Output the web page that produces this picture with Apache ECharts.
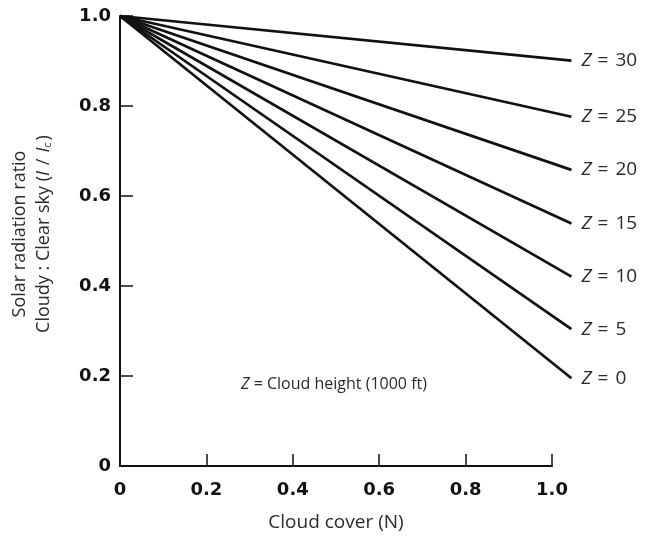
<!DOCTYPE html>
<html>
<head>
<meta charset="utf-8">
<script src="https://cdn.jsdelivr.net/npm/echarts@6/dist/echarts.min.js"></script>
<style>html,body{margin:0;padding:0;background:#fff;}#c{width:647px;height:543px;}</style>
</head>
<body>
<div id="c"></div>
<script>
// Cloud height Z (1000 ft) per line
const zHeights = [30, 25, 20, 15, 10, 5, 0];
// cloud cover at start and end of each drawn line
const coverStart = 0;
const coverEnd = 1.045;
// ratio at start and end of each line
const ratioStart = [1, 1, 1, 1, 1, 1, 1];
const ratioEnd = [0.901, 0.776, 0.658, 0.539, 0.421, 0.304, 0.195];
// axis ticks
const xTicks = [0, 0.2, 0.4, 0.6, 0.8, 1.0];
const yTicks = [0, 0.2, 0.4, 0.6, 0.8, 1.0];

const chart = echarts.init(document.getElementById('c'), null, {renderer: 'canvas'});
const fmt = v => (v === 0 ? '0' : v.toFixed(1));
const lightFont = '"Open Sans", Lato, sans-serif';
const tickFont = '"DejaVu Sans", "Liberation Sans", sans-serif';
const txtCol = '#2a2a2a';

const plotLeft = 120, plotTop = 16, plotBottom = 77;
const plotWidth = 432;

const series = zHeights.map((z, i) => ({
  type: 'line',
  name: 'Z=' + z,
  xAxisIndex: 1, yAxisIndex: 1,
  data: [[coverStart, ratioStart[i]], [coverEnd, ratioEnd[i]]],
  showSymbol: false,
  symbol: 'none',
  clip: false,
  silent: true,
  animation: false,
  lineStyle: {color: '#111', width: 2.7},
  endLabel: {
    show: true,
    distance: 10,
    formatter: '{i|Z}{e|=}' + z,
    color: txtCol,
    fontFamily: lightFont,
    fontSize: 19,
    rich: {
      i: {fontStyle: 'italic', fontFamily: lightFont, fontSize: 19, color: txtCol},
      e: {fontFamily: lightFont, fontSize: 19, color: txtCol, padding: [0, 7, 0, 6]}
    }
  }
}));

const yCommon = {type: 'value', min: 0, max: 1, interval: 0.2};

chart.setOption({
  animation: false,
  grid: [
    {left: plotLeft, width: plotWidth, top: plotTop, bottom: plotBottom, containLabel: false, outerBoundsMode: 'none'},
    {left: plotLeft, width: plotWidth * coverEnd, top: plotTop, bottom: plotBottom, containLabel: false, outerBoundsMode: 'none'}
  ],
  xAxis: [{
    gridIndex: 0,
    type: 'value', min: 0, max: 1, interval: 0.2,
    name: 'Cloud cover (N)', nameLocation: 'middle', nameGap: 47,
    nameTextStyle: {fontFamily: lightFont, fontSize: 19, color: txtCol},
    axisLine: {show: true, lineStyle: {color: '#111', width: 2}},
    axisTick: {show: true, inside: true, length: 12, lineStyle: {color: '#111', width: 1.5}},
    axisLabel: {formatter: v => fmt(v), margin: 15, fontFamily: tickFont, fontWeight: 'bold', fontSize: 18, color: '#111', showMaxLabel: true, showMinLabel: true},
    splitLine: {show: false}
  }, {
    gridIndex: 1, type: 'value', min: 0, max: coverEnd, show: false
  }],
  yAxis: [Object.assign({}, yCommon, {
    gridIndex: 0,
    name: '{a|Solar radiation ratio}\n{a|Cloudy : Clear sky (}{i|I}{sl|/}{i|I}{s|c}{a|)}',
    nameLocation: 'middle', nameGap: 64, nameRotate: 90,
    nameTextStyle: {
      fontFamily: lightFont, fontSize: 18, color: txtCol, lineHeight: 24, align: 'center',
      padding: [0, 0, 0, 14],
      rich: {
        a: {fontFamily: lightFont, fontSize: 18, color: txtCol, lineHeight: 24},
        i: {fontFamily: lightFont, fontSize: 18, fontStyle: 'italic', color: txtCol, lineHeight: 24},
        sl: {fontFamily: lightFont, fontSize: 18, color: txtCol, lineHeight: 24, padding: [0, 6, 0, 6]},
        s: {fontFamily: lightFont, fontSize: 11, color: txtCol, lineHeight: 24, padding: [8, 2, 0, 0]}
      }
    },
    axisLine: {show: true, lineStyle: {color: '#111', width: 2}},
    axisTick: {show: true, inside: true, length: 13, lineStyle: {color: '#111', width: 1.5}},
    axisLabel: {formatter: v => fmt(v), margin: 9, fontFamily: tickFont, fontWeight: 'bold', fontSize: 18, color: '#111'},
    splitLine: {show: false}
  }), Object.assign({}, yCommon, {gridIndex: 1, show: false})],
  graphic: [{
    type: 'text',
    left: 241, top: 376,
    style: {
      text: '{i|Z} = Cloud height (1000 ft)',
      fontFamily: lightFont, fontSize: 16, fill: txtCol,
      rich: {i: {fontStyle: 'italic', fontFamily: lightFont, fontSize: 16, fill: txtCol}}
    }
  }],
  series: series
});
</script>
</body>
</html>
